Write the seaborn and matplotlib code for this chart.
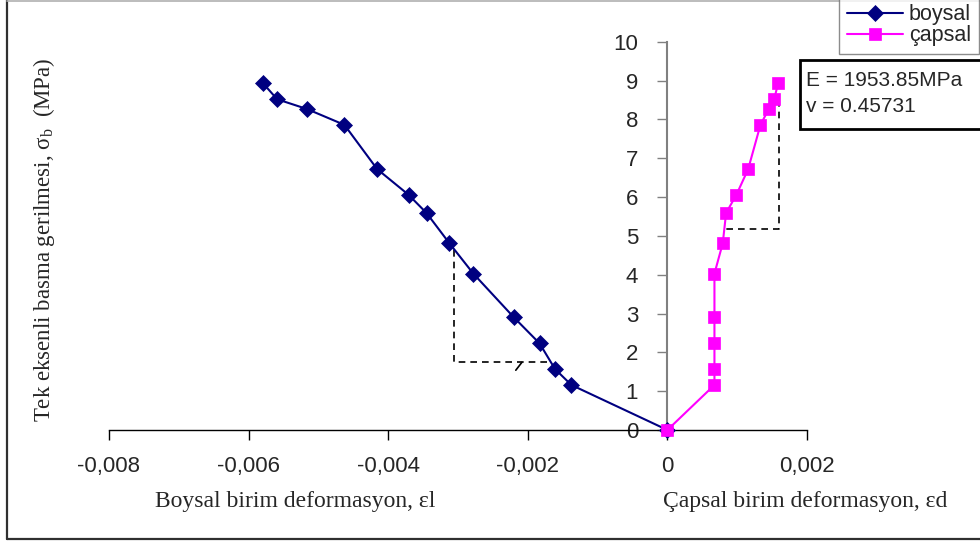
import matplotlib
matplotlib.use("Agg")
import matplotlib.pyplot as plt
import seaborn as sns
import pandas as pd
from matplotlib.lines import Line2D
from matplotlib.patches import Rectangle

# Tek eksenli basma deneyi: gerilme (MPa) ve birim deformasyonlar
stress = [0, 1.16, 1.57, 2.23, 2.91, 4.03, 4.81, 5.59, 6.06, 6.72, 7.86, 8.27, 8.52, 8.94]
strain_axial = [0, -0.001376, -0.001610, -0.001831, -0.002204, -0.002781, -0.003123,
                -0.003451, -0.003709, -0.004158, -0.004627, -0.005166, -0.005591, -0.005797]
strain_lateral = [0, 0.000674, 0.000674, 0.000674, 0.000674, 0.000674, 0.000793,
                  0.000841, 0.000989, 0.001157, 0.001333, 0.001453, 0.001530, 0.001587]
series_names = ["boysal", "çapsal"]

x_ticks = [-0.008, -0.006, -0.004, -0.002, 0, 0.002]
x_tick_labels = ["-0,008", "-0,006", "-0,004", "-0,002", "0", "0,002"]
y_ticks = list(range(0, 11))

# Eğim yardımcı çizgileri (kesikli)
guide_axial_x = [-0.003054, -0.003054, -0.001702]
guide_axial_y = [4.63, 1.74, 1.74]
guide_lateral_x = [0.001596, 0.001596, 0.000832]
guide_lateral_y = [8.50, 5.19, 5.19]
slope_mark_x = [-0.002086, -0.002172]
slope_mark_y = [1.74, 1.54]

modulus_text = "E = 1953.85MPa"
poisson_text = "v = 0.45731"

sns.set_theme(style="white")
plt.rcParams["font.family"] = ["Liberation Sans", "DejaVu Sans"]
plt.rcParams["mathtext.fontset"] = "custom"
plt.rcParams["mathtext.rm"] = "Liberation Serif"
plt.rcParams["mathtext.it"] = "Liberation Serif:italic"

W, H = 980, 542
fig = plt.figure(figsize=(W / 100, H / 100), dpi=100)
fig.patch.set_facecolor("white")

def fx(px):
    return px / W

def fy(py):
    return 1 - py / H

ax = fig.add_axes([fx(109), fy(430), fx(807) - fx(109), fy(41.8) - fy(430)])
ax.set_facecolor("white")

df_axial = pd.DataFrame({"strain": strain_axial, "stress": stress})
df_lateral = pd.DataFrame({"strain": strain_lateral, "stress": stress})

sns.lineplot(data=df_axial, x="strain", y="stress", sort=False, estimator=None,
             ax=ax, color="#000080", linewidth=1.5, marker="D", markersize=7.8,
             markeredgewidth=0.5, markeredgecolor="#000080",
             label=series_names[0], clip_on=False, zorder=3)
sns.lineplot(data=df_lateral, x="strain", y="stress", sort=False, estimator=None,
             ax=ax, color="#FF00FF", linewidth=1.5, marker="s", markersize=8.5,
             markeredgewidth=0.5, markeredgecolor="#FF00FF",
             label=series_names[1], clip_on=False, zorder=4)

dash_style = dict(color="black", linewidth=1.2, linestyle=(0, (4, 3)), zorder=2)
ax.plot(guide_axial_x, guide_axial_y, **dash_style)
ax.plot(guide_lateral_x, guide_lateral_y, **dash_style)
ax.plot(slope_mark_x, slope_mark_y, color="black", linewidth=1.2, zorder=2)

ax.set_xlim(-0.008, 0.002)
ax.set_ylim(0, 10)
ax.set_xticks(x_ticks)
ax.set_xticklabels(x_tick_labels)
ax.set_yticks(y_ticks)
ax.set_yticklabels([str(v) for v in y_ticks])
ax.set_xlabel("")
ax.set_ylabel("")

for side in ["top", "right"]:
    ax.spines[side].set_visible(False)
ax.spines["left"].set_position(("data", 0))
ax.spines["left"].set_color("#808080")
ax.spines["left"].set_linewidth(1.5)
ax.spines["bottom"].set_color("black")
ax.spines["bottom"].set_linewidth(1.0)

ax.tick_params(axis="x", direction="out", length=7, width=1, color="black",
               pad=12, labelsize=16, bottom=True)
ax.tick_params(axis="y", direction="out", length=7, width=1, color="#808080",
               pad=14, labelsize=16, left=True)

if ax.get_legend() is not None:
    ax.get_legend().remove()

handles = [
    Line2D([], [], color="#000080", linewidth=1.5, marker="D", markersize=7.8,
           markeredgewidth=0.5),
    Line2D([], [], color="#FF00FF", linewidth=1.5, marker="s", markersize=8.5,
           markeredgewidth=0.5),
]
leg = fig.legend(handles, series_names, loc="lower left",
                 bbox_to_anchor=(fx(839), fy(54)), borderaxespad=0,
                 fontsize=15.5, frameon=True, fancybox=False,
                 handlelength=2.6, handletextpad=0.3, labelspacing=0.0,
                 borderpad=0.35)
leg.get_frame().set_edgecolor("#707070")
leg.get_frame().set_linewidth(1.0)

# Elastisite modülü ve Poisson oranı kutusu
fig.patches.append(Rectangle((fx(800), fy(128.5)), fx(990) - fx(800),
                             fy(60) - fy(128.5), transform=fig.transFigure,
                             facecolor="white", edgecolor="black",
                             linewidth=2, clip_on=False))
fig.text(fx(806), fy(80), modulus_text, fontsize=15, va="center", ha="left")
fig.text(fx(806), fy(106), poisson_text, fontsize=15, va="center", ha="left")

# Eksen başlıkları
serif = ["Liberation Serif", "DejaVu Serif"]
fig.text(fx(295), fy(502), "Boysal birim deformasyon, εl", family=serif,
         fontsize=17, ha="center", va="center")
fig.text(fx(805), fy(502), "Çapsal birim deformasyon, εd", family=serif,
         fontsize=17, ha="center", va="center")
fig.text(fx(44), fy(240), r"Tek eksenli basma gerilmesi, σ$_{\rm b}$  (MPa)",
         family=serif, fontsize=16.5, rotation=90, ha="center", va="center")

# Grafik alanı çerçevesi
fig.lines.append(Line2D([fx(7), fx(7)], [fy(0), fy(539)], transform=fig.transFigure,
                        color="#303030", linewidth=1.6))
fig.lines.append(Line2D([fx(7), fx(980)], [fy(539), fy(539)], transform=fig.transFigure,
                        color="#303030", linewidth=1.6))
fig.lines.append(Line2D([fx(7), fx(980)], [fy(0.5), fy(0.5)], transform=fig.transFigure,
                        color="#b0b0b0", linewidth=1.2))

fig.savefig("out.png", dpi=100, facecolor="white")
